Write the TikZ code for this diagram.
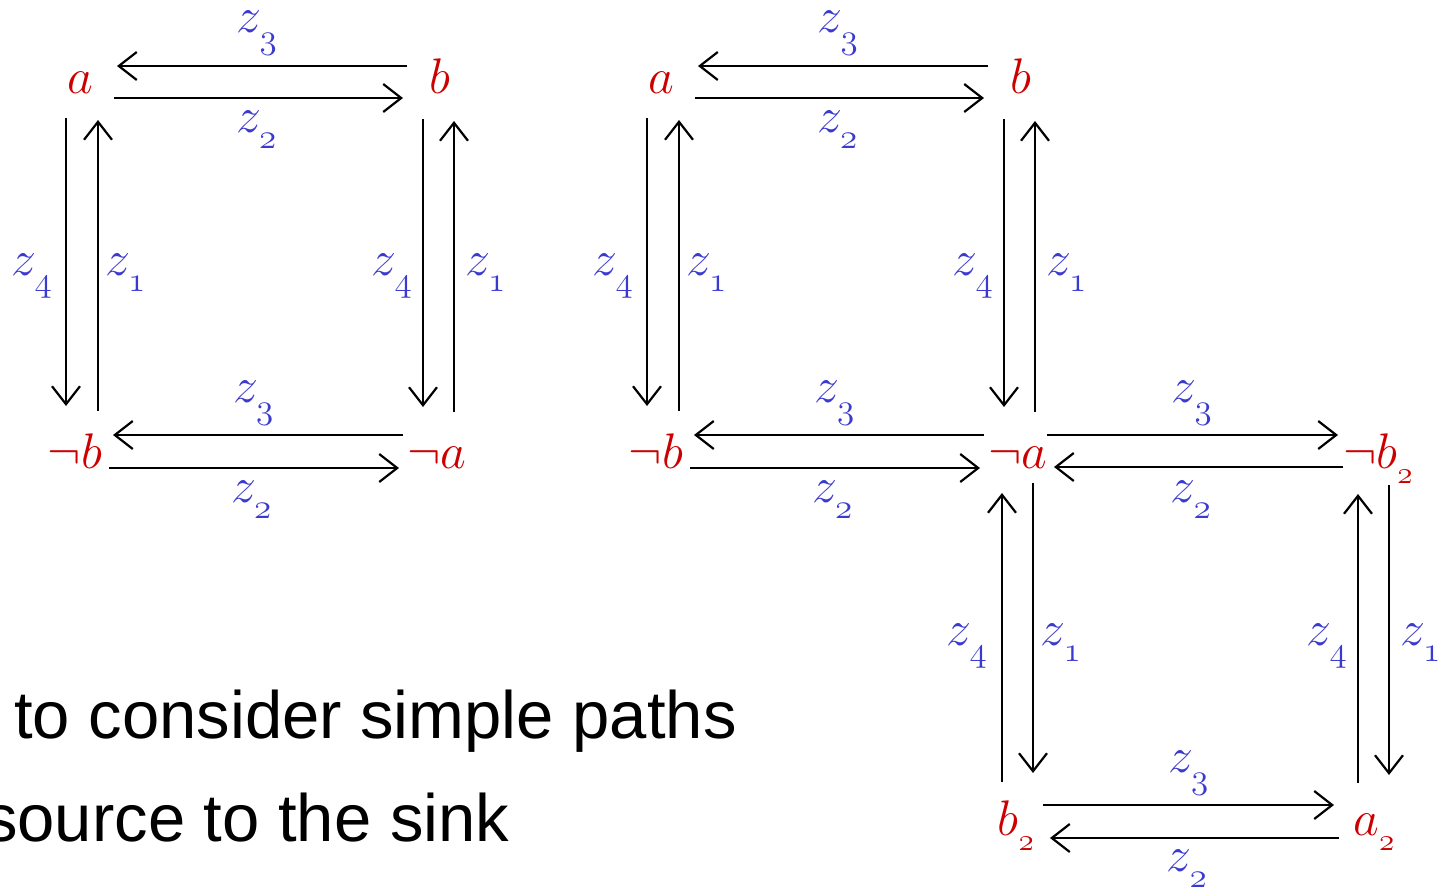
\RequirePackage{fix-cm}
\documentclass[tikz,border=0pt]{standalone}
\usepackage[no-math]{fontspec}
\newfontfamily\arialf{Liberation Sans}
\usetikzlibrary{arrows.meta,calc}
\definecolor{vred}{RGB}{204,0,0}
\definecolor{lblue}{RGB}{58,58,208}
\newcommand\zlab[1]{$z_{\lower9pt\hbox{$\scriptstyle\mathnormal{#1}$}}$}
\newcommand\vsb[1]{_{\lower8pt\hbox{\fontsize{31}{31}\selectfont$\mathnormal{#1}$}}}
\tikzset{
  vtx/.style={anchor=base, inner sep=0pt, text=vred, font=\fontsize{50}{60}\selectfont},
  lbl/.style={anchor=base, inner sep=0pt, text=lblue, font=\fontsize{50}{60}\selectfont},
  arr/.style={line width=2.2pt, -{Straight Barb[length=18pt,width=28pt,line width=2.2pt]}},
  txt/.style={anchor=base west, inner sep=0pt, font=\arialf\fontsize{67}{80}\selectfont}
}
\begin{document}
\begin{tikzpicture}[x=1pt,y=-1pt]
\useasboundingbox (0,0) rectangle (1443,887);
% ---------- left graph ----------
\node[vtx] (a1)  at (80,93)   {$a$};
\node[vtx] (b1)  at (440,93)  {$b$};
\node[vtx] (nb1) at (75,468)  {$\neg b$};
\node[vtx] (na1) at (437,468) {$\neg a$};
\draw[arr] ($(b1.base)+(-33,-27)$) -- ($(a1.base)+(37,-27)$);
\draw[arr] ($(a1.base)+(34,5)$) -- ($(b1.base)+(-37,5)$);
\draw[arr] ($(a1.base)+(-14,25)$) -- ($(nb1.base)+(-9,-62)$);
\draw[arr] ($(nb1.base)+(23,-57)$) -- ($(a1.base)+(18,27)$);
\draw[arr] ($(b1.base)+(-17,26)$) -- ($(na1.base)+(-14,-61)$);
\draw[arr] ($(na1.base)+(17,-56)$) -- ($(b1.base)+(14,28)$);
\draw[arr] ($(na1.base)+(-34,-33)$) -- ($(nb1.base)+(38,-33)$);
\draw[arr] ($(nb1.base)+(34,0)$) -- ($(na1.base)+(-38,0)$);
\node[lbl] (l1) at (257,32)    {\zlab{3}};
\node[lbl] (l2) at (256.5,132) {\zlab{2}};
\node[lbl] (l3) at (32,275)    {\zlab{4}};
\node[lbl] (l4) at (125.5,275) {\zlab{1}};
\node[lbl] (l5) at (392,275)   {\zlab{4}};
\node[lbl] (l6) at (485.5,275) {\zlab{1}};
\node[lbl] (l7) at (253.5,402) {\zlab{3}};
\node[lbl] (l8) at (251.5,502) {\zlab{2}};
% ---------- right graph ----------
\node[vtx] (a2)  at (661,93)   {$a$};
\node[vtx] (b2)  at (1021,93)  {$b$};
\node[vtx] (nb2) at (656,468)  {$\neg b$};
\node[vtx] (na2) at (1018,468) {$\neg a$};
\node[vtx] (nbb) at (1378,468) {$\neg b\vsb{2}$};
\node[vtx] (bb)  at (1016,835) {$b\vsb{2}$};
\node[vtx] (aa)  at (1374,835) {$a\vsb{2}$};
\draw[arr] ($(b2.base)+(-33,-27)$) -- ($(a2.base)+(37,-27)$);
\draw[arr] ($(a2.base)+(34,5)$) -- ($(b2.base)+(-37,5)$);
\draw[arr] ($(a2.base)+(-14,25)$) -- ($(nb2.base)+(-9,-62)$);
\draw[arr] ($(nb2.base)+(23,-57)$) -- ($(a2.base)+(18,27)$);
\draw[arr] ($(b2.base)+(-17,26)$) -- ($(na2.base)+(-14,-61)$);
\draw[arr] ($(na2.base)+(17,-56)$) -- ($(b2.base)+(14,28)$);
\draw[arr] ($(na2.base)+(-34,-33)$) -- ($(nb2.base)+(38,-33)$);
\draw[arr] ($(nb2.base)+(34,0)$) -- ($(na2.base)+(-38,0)$);
\draw[arr] ($(na2.base)+(29,-33)$) -- ($(nbb.base)+(-40,-33)$);
\draw[arr] ($(nbb.base)+(-35,-1)$) -- ($(na2.base)+(36,-1)$);
\draw[arr] ($(bb.base)+(-14,-53)$) -- ($(na2.base)+(-16,25)$);
\draw[arr] ($(na2.base)+(15,15)$) -- ($(bb.base)+(17,-62)$);
\draw[arr] ($(aa.base)+(-16,-52)$) -- ($(nbb.base)+(-20,26)$);
\draw[arr] ($(nbb.base)+(11,17)$) -- ($(aa.base)+(15,-60)$);
\draw[arr] ($(bb.base)+(27,-30)$) -- ($(aa.base)+(-40,-30)$);
\draw[arr] ($(aa.base)+(-35,3)$) -- ($(bb.base)+(34,3)$);
\node[lbl] (r1) at (838,32)     {\zlab{3}};
\node[lbl] (r2) at (837.5,132)  {\zlab{2}};
\node[lbl] (r3) at (613,275)    {\zlab{4}};
\node[lbl] (r4) at (706.5,275)  {\zlab{1}};
\node[lbl] (r5) at (973,275)    {\zlab{4}};
\node[lbl] (r6) at (1066.5,275) {\zlab{1}};
\node[lbl] (r7) at (834.5,402)  {\zlab{3}};
\node[lbl] (r8) at (832.5,502)  {\zlab{2}};
\node[lbl] (r9)  at (1192,402)   {\zlab{3}};
\node[lbl] (r10) at (1191,502)   {\zlab{2}};
\node[lbl] (r11) at (967,645)    {\zlab{4}};
\node[lbl] (r12) at (1061,645)   {\zlab{1}};
\node[lbl] (r13) at (1327,645)   {\zlab{4}};
\node[lbl] (r14) at (1420.5,645) {\zlab{1}};
\node[lbl] (r15) at (1188.5,772) {\zlab{3}};
\node[lbl] (r16) at (1187,871)   {\zlab{2}};
% ---------- text ----------
\node[txt] (t1) at (14,738)  {to consider simple paths};
\node[txt] (t2) at (-16,841) {source to the sink};
\end{tikzpicture}
\end{document}
